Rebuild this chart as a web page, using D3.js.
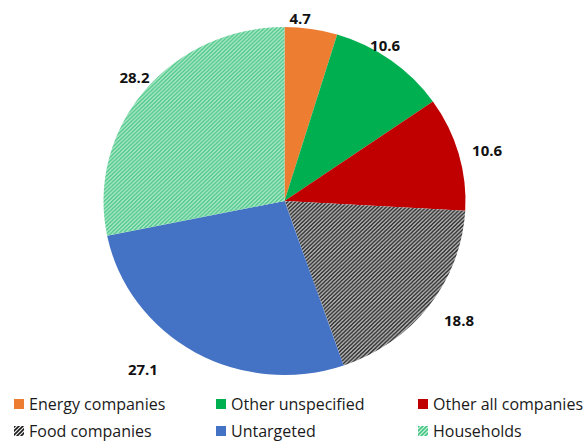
<!DOCTYPE html>
<html>
<head>
<meta charset="utf-8">
<script src="https://cdn.jsdelivr.net/npm/d3@7"></script>
<style>
  html, body { margin: 0; padding: 0; background: #fff; }
  svg { display: block; }
</style>
</head>
<body>
<svg id="chart" width="584" height="442"></svg>
<script>
// Shares by target group (percent), clockwise from 12 o'clock
const categories = ["Energy companies", "Other unspecified", "Other all companies", "Food companies", "Untargeted", "Households"];
const shares = [4.7, 10.6, 10.6, 18.8, 27.1, 28.2];
const valueLabels = ["4.7", "10.6", "10.6", "18.8", "27.1", "28.2"];

// Fill per slice: solid colour or a striped pattern id
const fills = ["#ED7D31", "#00B050", "#C00000", "url(#stripeDark)", "#4472C4", "url(#stripeGreen)"];
// Label nudges (px) away from the default outside position
const labelNudge = [[-13, 3], [-14, -4], [15, 0], [19, 6], [-45, 5], [1, -5]];

const svg = d3.select("#chart");
const defs = svg.append("defs");

function stripePattern(id, bg, fg, w) {
  const p = defs.append("pattern")
    .attr("id", id)
    .attr("patternUnits", "userSpaceOnUse")
    .attr("width", 4).attr("height", 4);
  p.append("rect").attr("width", 4).attr("height", 4).attr("fill", bg);
  p.append("path")
    .attr("d", "M-1,1 L1,-1 M0,4 L4,0 M3,5 L5,3")
    .attr("stroke", fg).attr("stroke-width", w);
}
stripePattern("stripeDark", "#f2f2f2", "#1a1a1a", 1.6);
stripePattern("stripeGreen", "#d2f5e2", "#45c583", 1.6);

const cx = 284.5, cy = 201, rx = 181, ry = 174;
const pie = d3.pie().sort(null).value(d => d)(shares);
const arc = d3.arc().innerRadius(0).outerRadius(rx);

const g = svg.append("g")
  .attr("transform", `translate(${cx},${cy}) scale(1,${ry / rx})`);

g.selectAll("path.slice")
  .data(pie)
  .join("path")
  .attr("class", "slice")
  .attr("d", arc)
  .attr("fill", (d, i) => fills[i]);

// Value labels placed just outside each slice
const gap = 14;
svg.append("g")
  .selectAll("text")
  .data(pie)
  .join("text")
  .attr("x", (d, i) => {
    const a = (d.startAngle + d.endAngle) / 2;
    return cx + (rx + gap) * Math.sin(a) + labelNudge[i][0];
  })
  .attr("y", (d, i) => {
    const a = (d.startAngle + d.endAngle) / 2;
    return cy - (ry + gap) * Math.cos(a) + labelNudge[i][1];
  })
  .attr("text-anchor", "middle")
  .attr("dominant-baseline", "central")
  .attr("font-family", "'Open Sans', 'Noto Sans', sans-serif")
  .attr("font-weight", "bold")
  .attr("font-size", 15)
  .attr("fill", "#111")
  .text((d, i) => valueLabels[i]);

// Legend: three columns, two rows
const colX = [14, 216, 418];
const rowY = [404, 431];
const legend = svg.append("g")
  .selectAll("g")
  .data(categories)
  .join("g")
  .attr("transform", (d, i) => `translate(${colX[i % 3]},${rowY[Math.floor(i / 3)]})`);

legend.append("rect")
  .attr("x", 0).attr("y", -5)
  .attr("width", 10).attr("height", 10)
  .attr("fill", (d, i) => fills[i]);

legend.append("text")
  .attr("x", 15).attr("y", 0)
  .attr("dominant-baseline", "central")
  .attr("font-family", "'Open Sans', 'Noto Sans', sans-serif")
  .attr("font-size", 16)
  .attr("fill", "#1a1a1a")
  .text(d => d);
</script>
</body>
</html>
